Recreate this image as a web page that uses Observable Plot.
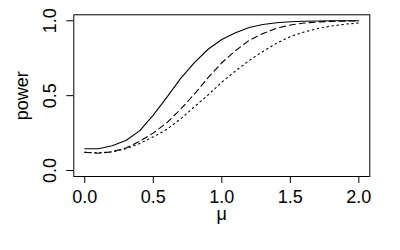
<!DOCTYPE html>
<html><head><meta charset="utf-8">
<script src="https://cdn.jsdelivr.net/npm/d3@7"></script>
<script src="https://cdn.jsdelivr.net/npm/@observablehq/plot@0.6"></script>
<style>body{margin:0;background:#fff} svg{display:block}</style>
</head><body><div id="chart"></div>
<script>
const mu = [0,0.1,0.2,0.3,0.4,0.5,0.6,0.7,0.8,0.9,1.0,1.1,1.2,1.3,1.4,1.5,1.6,1.7,1.8,1.9,2.0];
const powerSolid  = [0.145,0.145,0.165,0.2,0.265,0.37,0.49,0.615,0.72,0.81,0.875,0.92,0.955,0.975,0.987,0.994,0.997,0.999,1,1,1];
const powerDashed = [0.122,0.115,0.125,0.15,0.195,0.25,0.32,0.41,0.51,0.62,0.72,0.8,0.87,0.915,0.95,0.972,0.985,0.992,0.996,0.998,0.999];
const powerDotted = [0.122,0.118,0.125,0.145,0.18,0.225,0.275,0.345,0.425,0.505,0.59,0.665,0.735,0.795,0.85,0.895,0.925,0.948,0.965,0.977,0.986];
const xTicks = [0,0.5,1,1.5,2];
const yTicks = [0,0.5,1];
const xLabel = "μ";
const yLabel = "power";

const fmt = d3.format(".1f");
const FS = 18;
const chart = Plot.plot({
  width: 400, height: 250,
  marginLeft: 73.3, marginRight: 30.7, marginTop: 14.3, marginBottom: 74,
  x: {domain: [-0.08, 2.08]},
  y: {domain: [-0.04, 1.04]},
  style: {fontFamily: "'Liberation Sans', Arial, sans-serif", fontSize: "18px", background: "white", color: "black"},
  marks: [
    Plot.frame({stroke: "black"}),
    Plot.axisX({ticks: xTicks, tickSize: 7, tickPadding: 7, tickFormat: fmt, label: null, fontSize: FS}),
    Plot.axisY({ticks: yTicks, tickSize: 7, tickFormat: () => "", label: null}),
    Plot.text(yTicks, {y: d => d, text: d => fmt(d), frameAnchor: "left", textAnchor: "middle", rotate: -90, dx: -18.3, lineAnchor: "bottom", fontSize: FS}),
    Plot.text([yLabel], {text: d => d, frameAnchor: "left", textAnchor: "middle", rotate: -90, dx: -46, lineAnchor: "bottom", fontSize: FS}),
    Plot.text([xLabel], {text: d => d, frameAnchor: "bottom", textAnchor: "middle", dy: 43, lineAnchor: "bottom", fontSize: FS}),
    Plot.line(mu, {x: d => d, y: (d, i) => powerSolid[i], stroke: "black", strokeWidth: 1.1}),
    Plot.line(mu, {x: d => d, y: (d, i) => powerDashed[i], stroke: "black", strokeWidth: 1.1, strokeDasharray: "6,4"}),
    Plot.line(mu, {x: d => d, y: (d, i) => powerDotted[i], stroke: "black", strokeWidth: 1.1, strokeDasharray: "1.5,3.5"})
  ]
});
document.getElementById("chart").append(chart);
</script>
</body></html>
